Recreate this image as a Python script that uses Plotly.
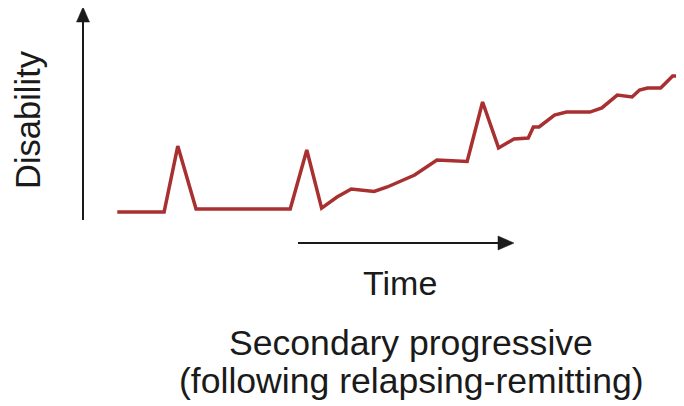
import plotly.graph_objects as go

# Data (time: 0-100, disability: 0-100 arbitrary units)
time = [0, 8.2, 10.6, 13.8, 30.3, 33.2, 35.8, 38.5, 41.0, 45.0, 47.3, 52.1, 56.0,
        61.3, 64.0, 66.8, 69.5, 72.0, 72.9, 73.9, 76.6, 78.7, 82.8, 84.9, 87.6,
        90.2, 91.5, 92.9, 95.2, 96.1, 97.3, 100]
disability = [0, 0, 48.5, 2.2, 2.2, 45.6, 2.9, 11.0, 16.9, 15.1, 18.4, 27.2, 38.2,
              37.1, 80.9, 47.1, 53.7, 54.4, 62.5, 62.5, 71.3, 73.5, 73.5, 76.5, 86.0,
              84.6, 89.7, 91.2, 91.2, 94.9, 100, 100]

y_label = "Disability"
x_label = "Time"
title_lines = ["Secondary progressive", "(following relapsing-remitting)"]

# the page body has an 8px margin, so the figure is 8px smaller and offset
OFF = 8
W, H = 684 - OFF, 406 - OFF
FONT = "Liberation Sans, Arial, Helvetica, sans-serif"
INK = "#1a1a1a"
RED = "#A83030"


def px(x):
    return (x - OFF) / W


def py(y):
    return 1 - (y - OFF) / H


fig = go.Figure()
fig.add_trace(go.Scatter(x=time, y=disability, mode="lines",
                         line=dict(color=RED, width=3.5), hoverinfo="skip"))

shapes = [
    # vertical axis arrow
    dict(type="line", xref="paper", yref="paper", x0=px(83), x1=px(83), y0=py(220), y1=py(20),
         line=dict(color=INK, width=2)),
    dict(type="path", xref="paper", yref="paper",
         path=f"M {px(83)} {py(7)} L {px(76.5)} {py(22)} L {px(89.5)} {py(22)} Z",
         fillcolor=INK, line=dict(color=INK, width=0.5)),
    # horizontal time arrow
    dict(type="line", xref="paper", yref="paper", x0=px(298), x1=px(500), y0=py(243), y1=py(243),
         line=dict(color=INK, width=2)),
    dict(type="path", xref="paper", yref="paper",
         path=f"M {px(514)} {py(243)} L {px(498)} {py(236)} L {px(498)} {py(250)} Z",
         fillcolor=INK, line=dict(color=INK, width=0.5)),
]

common = dict(xref="paper", yref="paper", showarrow=False, xanchor="center", yanchor="middle")
annotations = [
    dict(text=y_label, x=px(28), y=py(120), textangle=-90,
         font=dict(family=FONT, size=34.5, color=INK), **common),
    dict(text=x_label, x=px(400), y=py(283),
         font=dict(family=FONT, size=34, color=INK), **common),
    dict(text=title_lines[0], x=px(411), y=py(343),
         font=dict(family=FONT, size=35.6, color=INK), **common),
    dict(text=title_lines[1], x=px(411), y=py(381),
         font=dict(family=FONT, size=35.6, color=INK), **common),
]

x_px0 = 116 - OFF
fig.update_layout(
    width=W, height=H,
    margin=dict(l=0, r=0, t=0, b=0),
    paper_bgcolor="white", plot_bgcolor="white",
    showlegend=False,
    xaxis=dict(range=[-(116 - OFF) / 5.64, (684 - 116) / 5.64 - OFF / 5.64],
               visible=False, fixedrange=True),
    yaxis=dict(range=[(212 - 406) / 1.36, (212 - OFF) / 1.36], visible=False, fixedrange=True),
    shapes=shapes,
    annotations=annotations,
)

fig.write_html("out.html", config={"displayModeBar": False})
